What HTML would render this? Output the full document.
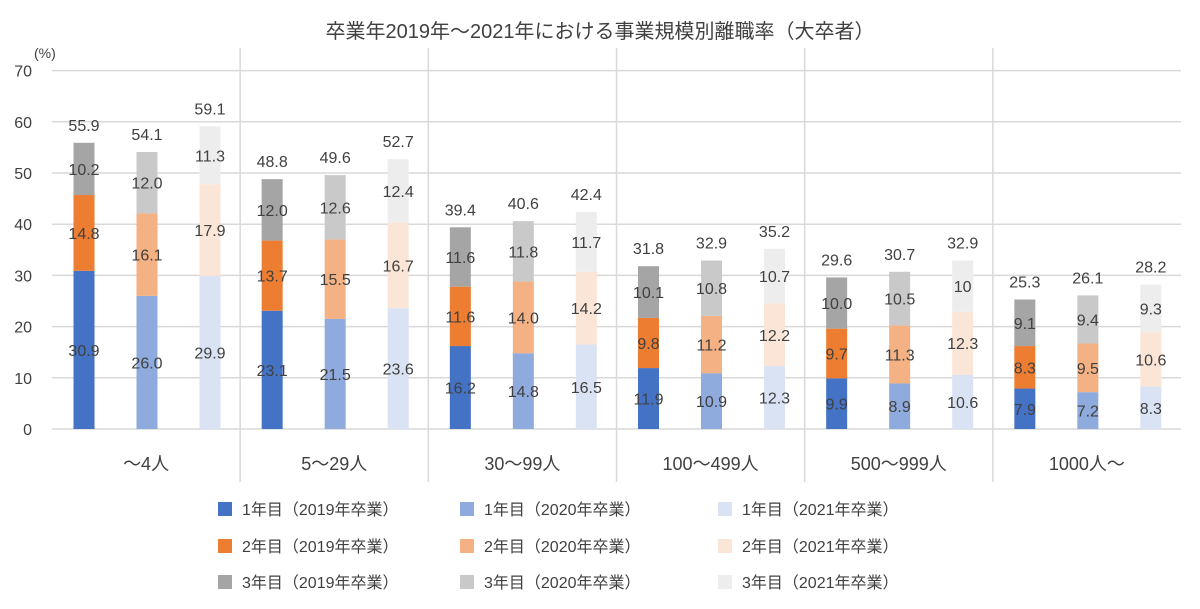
<!DOCTYPE html>
<html><head><meta charset="utf-8">
<style>
body{margin:0;background:#fff;}
svg text{font-family:"Liberation Sans","Noto Sans CJK JP",sans-serif;}
</style></head>
<body>
<svg id="chart" width="1200" height="604" xmlns="http://www.w3.org/2000/svg">
<rect width="1200" height="604" fill="#fff"/>
<text x="600" y="38" font-size="20" text-anchor="middle" fill="#404040">卒業年2019年～2021年における事業規模別離職率（大卒者）</text>
<text x="34" y="58" font-size="14" fill="#404040">(%)</text>
<g id="grid"></g><g id="bars"></g><g id="labels"></g><g id="legend"></g>
</svg>
<script>
const categories=["～4人","5～29人","30～99人","100～499人","500～999人","1000人～"];
const year1_2019=[30.9,23.1,16.2,11.9,9.9,7.9];
const year2_2019=[14.8,13.7,11.6,9.8,9.7,8.3];
const year3_2019=[10.2,12.0,11.6,10.1,10.0,9.1];
const year1_2020=[26.0,21.5,14.8,10.9,8.9,7.2];
const year2_2020=[16.1,15.5,14.0,11.2,11.3,9.5];
const year3_2020=[12.0,12.6,11.8,10.8,10.5,9.4];
const year1_2021=[29.9,23.6,16.5,12.3,10.6,8.3];
const year2_2021=[17.9,16.7,14.2,12.2,12.3,10.6];
const year3_2021=[11.3,12.4,11.7,10.7,10,9.3];
const totals2019=["55.9","48.8","39.4","31.8","29.6","25.3"];
const totals2020=["54.1","49.6","40.6","32.9","30.7","26.1"];
const totals2021=["59.1","52.7","42.4","35.2","32.9","28.2"];
const yTicks=[0,10,20,30,40,50,60,70];
const NS="http://www.w3.org/2000/svg";
const x0=52,x1=1181,y0=429,pxPer=51.2,gw=(x1-x0)/6;
const yS=v=>y0-v*pxPer/10;
function mk(tag,attrs,parent,txt){const e=document.createElementNS(NS,tag);for(const k in attrs)e.setAttribute(k,attrs[k]);if(txt!==undefined)e.textContent=txt;parent.appendChild(e);return e;}
const grid=document.getElementById('grid'),bars=document.getElementById('bars'),labels=document.getElementById('labels'),legend=document.getElementById('legend');
yTicks.forEach(t=>{
 const l=mk('line',{x1:x0,x2:x1,y1:yS(t),y2:yS(t),stroke:'#d9d9d9','stroke-width':1.5},grid);
 
 
 const tx=mk('text',{x:32,y:yS(t)+6,'font-size':16,'text-anchor':'end',fill:'#404040'},grid,String(t));
 
 
});
for(let i=1;i<6;i++){
 const l=mk('line',{x1:x0+i*gw,x2:x0+i*gw,y1:48,y2:482,stroke:'#d9d9d9','stroke-width':1.5},grid);
 
 
}
const series=[
 {segs:[year1_2019,year2_2019,year3_2019],cols:['#4472c4','#ed7d31','#a5a5a5'],tot:totals2019,y:'2019'},
 {segs:[year1_2020,year2_2020,year3_2020],cols:['#8faadc','#f4b183','#c9c9c9'],tot:totals2020,y:'2020'},
 {segs:[year1_2021,year2_2021,year3_2021],cols:['#dae3f3','#fbe5d6','#ededed'],tot:totals2021,y:'2021'}];
const bw=21;
categories.forEach((c,i)=>{
 const ct=mk('text',{x:x0+gw*i+gw/2,y:470,'font-size':18,'text-anchor':'middle',fill:'#404040'},labels,c);
 
 
 series.forEach((s,j)=>{
  const cx=x0+gw*i+32+j*63;
  let acc=0;
  s.segs.forEach((arr,k)=>{
   const v=arr[i];
   const r=mk('rect',{x:cx-bw/2,y:yS(acc+v),width:bw,height:yS(acc)-yS(acc+v),fill:s.cols[k]},bars);
   
   
   let lbl=v.toFixed(1);
   if(s.y==='2021'&&k===2&&v===10)lbl='10';
   const t=mk('text',{x:cx,y:yS(acc+v/2)+6,'font-size':16,'text-anchor':'middle',fill:'#404040'},labels,lbl);
   
   
   acc+=v;
  });
  const tt=mk('text',{x:cx,y:yS(acc)-12,'font-size':16,'text-anchor':'middle',fill:'#404040'},labels,s.tot[i]);
  
  
 });
});
const legX=[218,460,718],legY=[509,546,582];
series.forEach((s,j)=>{
 s.cols.forEach((col,k)=>{
  const g=mk('g',{},legend);
  
  
  mk('rect',{x:legX[j],y:legY[k]-7,width:14,height:14,fill:col},g);
  mk('text',{x:legX[j]+24,y:legY[k]+6,'font-size':16,fill:'#404040'},g,(k+1)+'年目（'+s.y+'年卒業）');
 });
});
</script>
</body></html>
